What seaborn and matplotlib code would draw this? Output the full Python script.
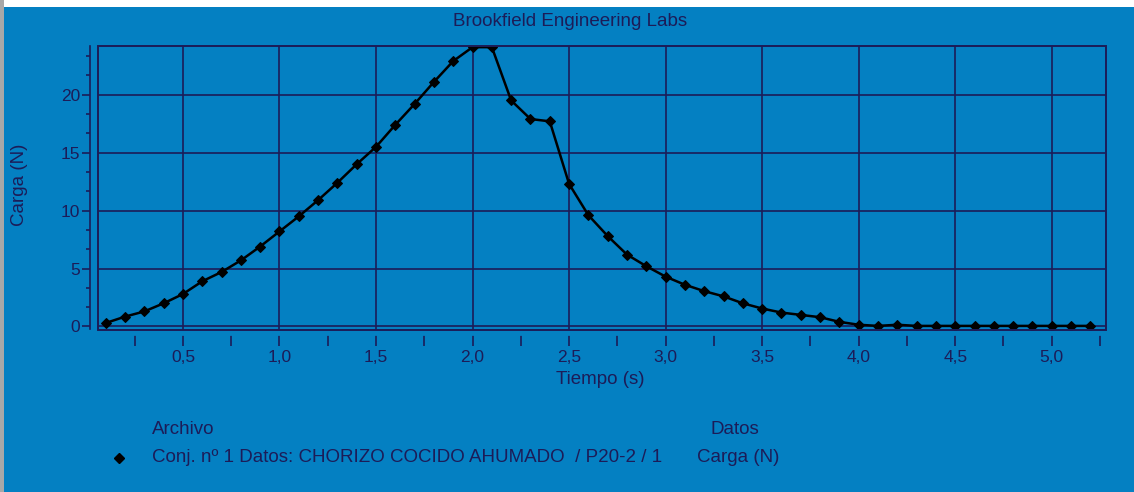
import matplotlib
matplotlib.use("Agg")
import matplotlib.pyplot as plt
import seaborn as sns
import pandas as pd
from matplotlib.patches import Rectangle
from matplotlib.ticker import FixedLocator, MultipleLocator, FuncFormatter
from matplotlib.lines import Line2D

# datos
tiempo = [0.1, 0.2, 0.3, 0.4, 0.5, 0.6, 0.7, 0.8, 0.9, 1.0,
          1.1, 1.2, 1.3, 1.4, 1.5, 1.6, 1.7, 1.8, 1.9, 2.0,
          2.1, 2.2, 2.3, 2.4, 2.5, 2.6, 2.7, 2.8, 2.9, 3.0,
          3.1, 3.2, 3.3, 3.4, 3.5, 3.6, 3.7, 3.8, 3.9, 4.0,
          4.1, 4.2, 4.3, 4.4, 4.5, 4.6, 4.7, 4.8, 4.9, 5.0,
          5.1, 5.2]
carga = [0.3, 0.85, 1.3, 2.0, 2.8, 3.9, 4.7, 5.7, 6.9, 8.2,
         9.5, 10.9, 12.4, 14.0, 15.5, 17.4, 19.2, 21.1, 22.9, 24.1,
         24.1, 19.5, 17.9, 17.7, 12.3, 9.6, 7.8, 6.2, 5.2, 4.3,
         3.6, 3.05, 2.6, 2.0, 1.55, 1.2, 1.0, 0.8, 0.4, 0.15,
         0.05, 0.15, 0.05, 0.05, 0.05, 0.05, 0.05, 0.05, 0.05, 0.05,
         0.05, 0.05]
titulo = "Brookfield Engineering Labs"
etiqueta_x = "Tiempo (s)"
etiqueta_y = "Carga (N)"
serie = "Conj. nº 1 Datos: CHORIZO COCIDO AHUMADO  / P20-2 / 1"

fondo = "#0480C2"
oscuro = "#1C1C58"

sns.set_theme(style="white")
plt.rcParams["font.family"] = ["Liberation Sans", "DejaVu Sans"]

df = pd.DataFrame({"Tiempo": tiempo, "Carga": carga})

fig = plt.figure(figsize=(11.34, 4.92), dpi=100, facecolor=fondo)
ax = fig.add_axes([98 / 1134, 1 - 329.5 / 492, 1008 / 1134, 283.5 / 492])
ax.set_facecolor(fondo)

sns.lineplot(data=df, x="Tiempo", y="Carga", color="black", marker="D",
             markersize=5, linewidth=1.8, markeredgecolor="black", ax=ax)

ax.set_xlim(0.06, 5.281)
ax.set_ylim(-0.26, 24.2)

# rejilla
for v in [0.5, 1.0, 1.5, 2.0, 2.5, 3.0, 3.5, 4.0, 4.5, 5.0]:
    ax.axvline(v, color=oscuro, lw=1.2, zorder=0)
for v in [0, 5, 10, 15, 20]:
    ax.axhline(v, color=oscuro, lw=1.2, zorder=0)

# marco del area de datos
ax.add_patch(Rectangle((0, 0), 1, 1, transform=ax.transAxes, fill=False,
                       edgecolor=oscuro, lw=1.4, zorder=5, clip_on=False))

for s in ["top", "right"]:
    ax.spines[s].set_visible(False)
ax.spines["left"].set_position(("outward", 6))
ax.spines["left"].set_color(oscuro)
ax.spines["left"].set_linewidth(1.2)
ax.spines["bottom"].set_position(("outward", 4))
ax.spines["bottom"].set_color(fondo)

ax.yaxis.set_major_locator(FixedLocator([0, 5, 10, 15, 20]))
ax.yaxis.set_minor_locator(FixedLocator([5 / 3 * i for i in range(15)]))
ax.xaxis.set_major_locator(MultipleLocator(0.5))
ax.xaxis.set_minor_locator(MultipleLocator(0.25))
ax.xaxis.set_major_formatter(FuncFormatter(lambda v, p: f"{v:.1f}".replace(".", ",")))

ax.tick_params(axis="y", which="major", length=6, width=1.2, color=oscuro,
               labelcolor=oscuro, labelsize=12.5, pad=1, left=True)
ax.tick_params(axis="y", which="minor", length=3, width=1.2, color=oscuro, left=True)
ax.tick_params(axis="x", which="both", length=8, width=1.2, color=oscuro,
               labelcolor=oscuro, labelsize=12.5, pad=3, bottom=True, direction="out")
ax.set_xlabel("")
ax.set_ylabel("")

fs = 13.5
# textos
fig.text(570 / 1134, 1 - 21 / 492, titulo, ha="center", va="center",
         color=oscuro, fontsize=fs)
fig.text(600 / 1134, 1 - 380 / 492, etiqueta_x, ha="center", va="center",
         color=oscuro, fontsize=fs)
fig.text(19 / 1134, 1 - 185 / 492, etiqueta_y, ha="center", va="center",
         color=oscuro, fontsize=fs, rotation=90)

# leyenda
fig.text(152 / 1134, 1 - 430 / 492, "Archivo", ha="left", va="center",
         color=oscuro, fontsize=fs)
fig.text(711 / 1134, 1 - 430 / 492, "Datos", ha="left", va="center",
         color=oscuro, fontsize=fs)
fig.add_artist(Line2D([119 / 1134], [1 - 458 / 492], marker="D", markersize=5,
                      color="black", transform=fig.transFigure))
fig.text(152 / 1134, 1 - 458 / 492, serie, ha="left", va="center",
         color=oscuro, fontsize=fs)
fig.text(697 / 1134, 1 - 458 / 492, etiqueta_y, ha="left", va="center",
         color=oscuro, fontsize=fs)

# bordes de la captura
fig.add_artist(Rectangle((0, 1 - 7 / 492), 1, 7 / 492, transform=fig.transFigure,
                         facecolor="white", edgecolor="none"))
fig.add_artist(Rectangle((0, 0), 4 / 1134, 1, transform=fig.transFigure,
                         facecolor="#A8A8A8", edgecolor="none"))

fig.savefig("out.png", dpi=100, facecolor=fondo)
